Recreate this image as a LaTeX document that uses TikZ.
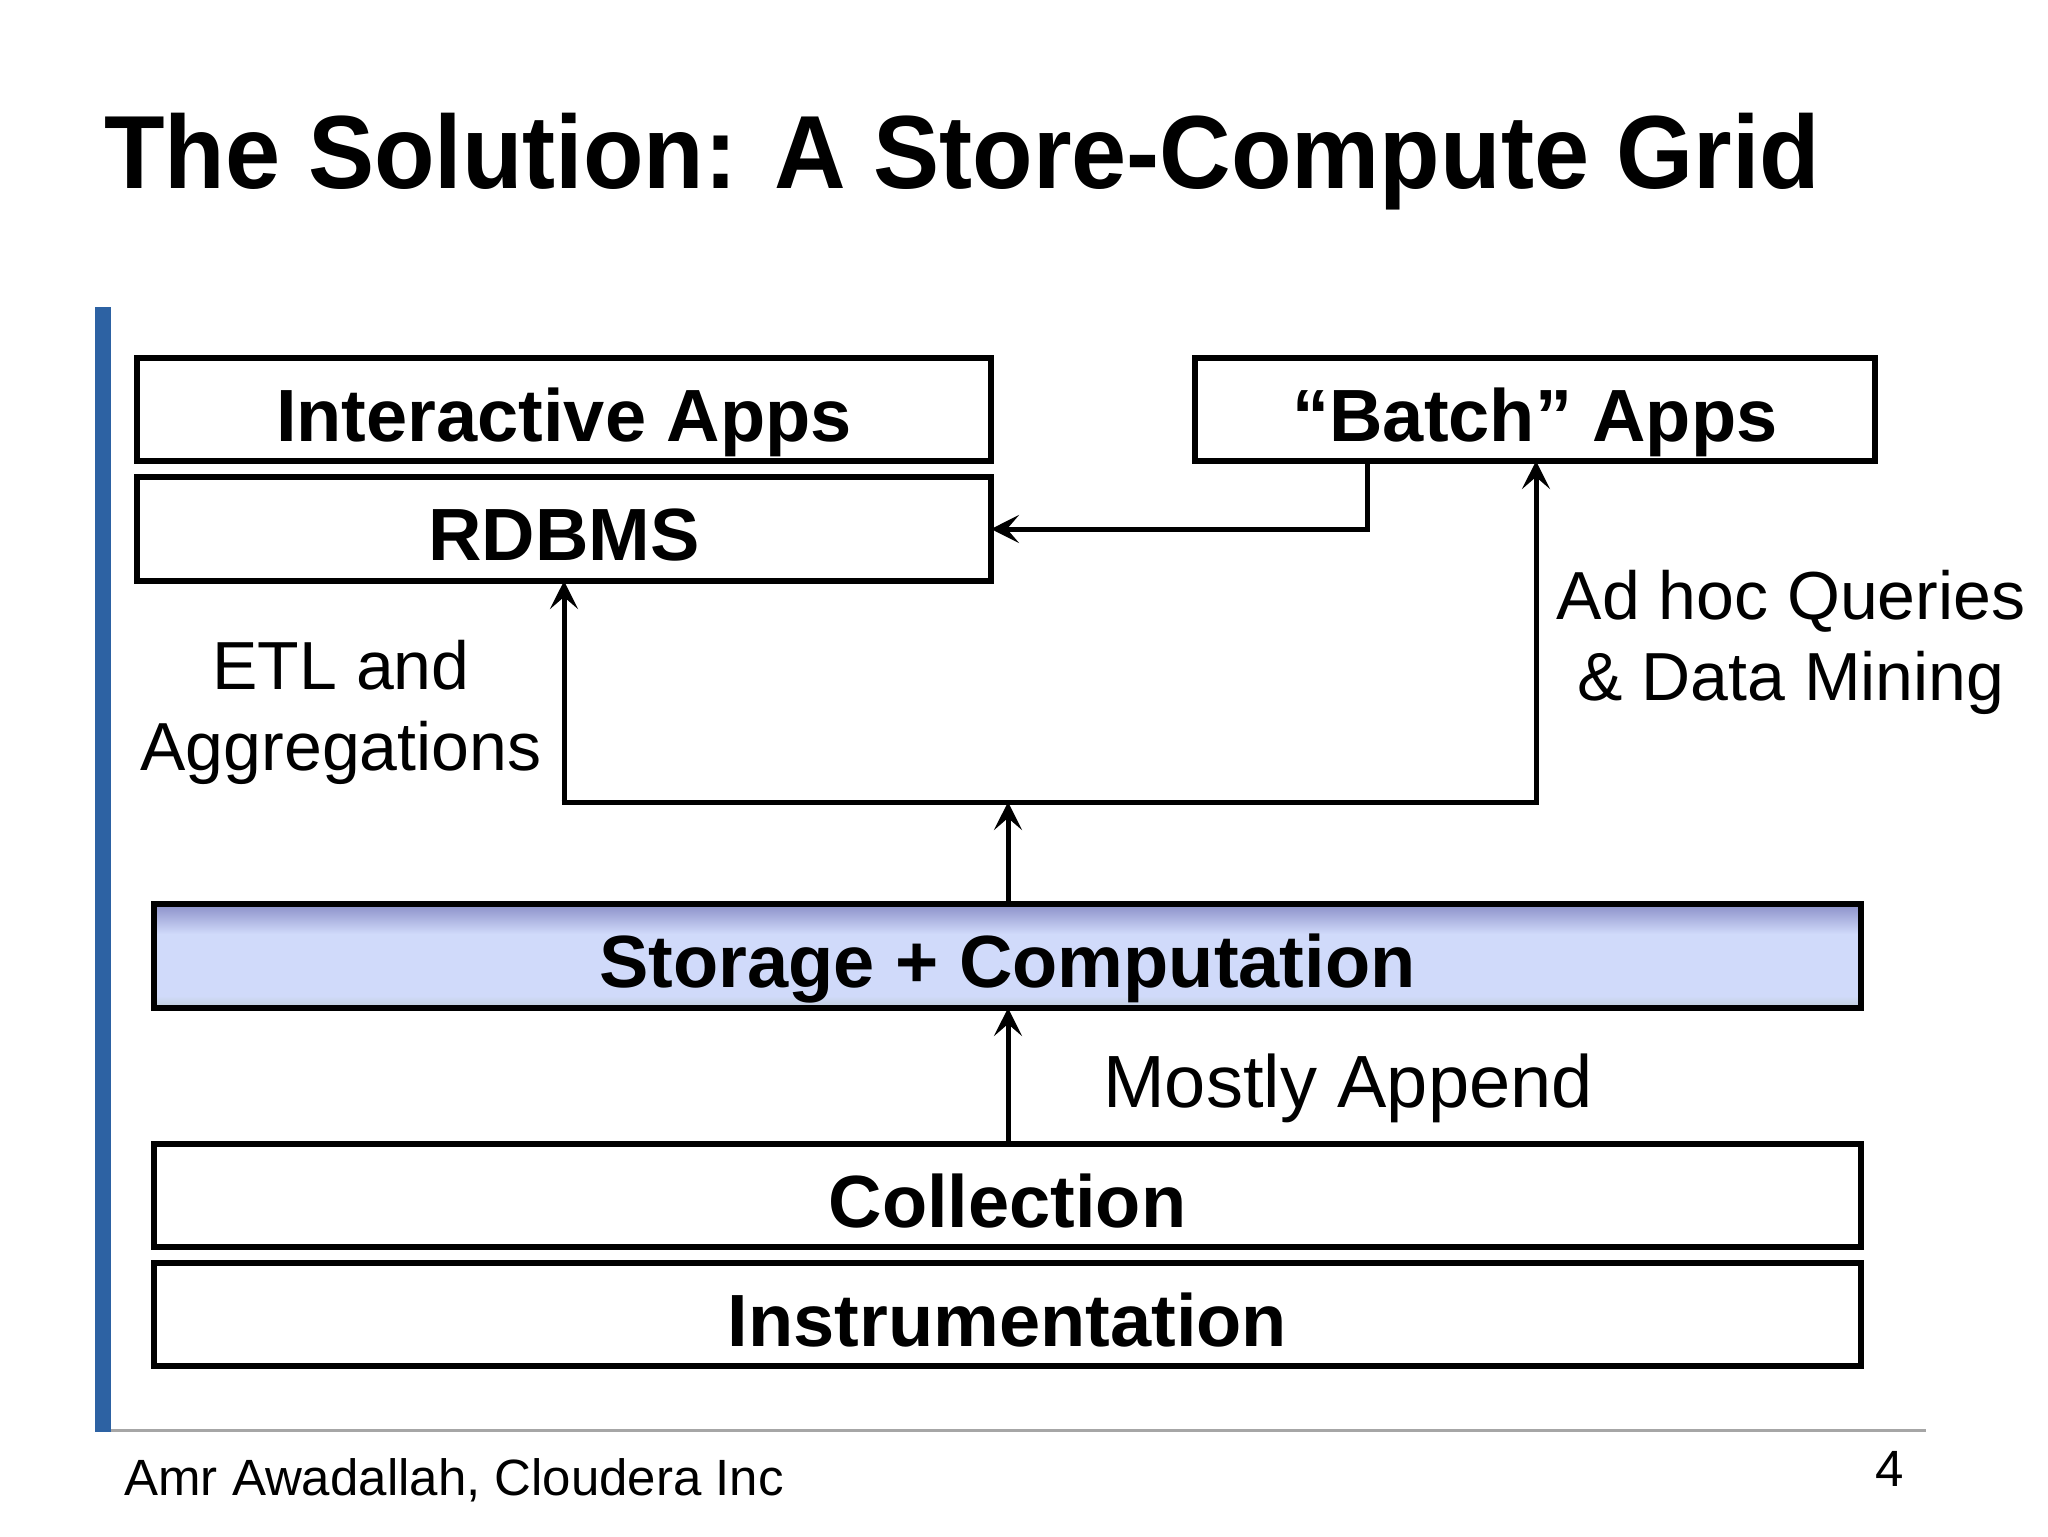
\documentclass[tikz,border=0pt]{standalone}
\usepackage{fontspec}
\setmainfont{Liberation Sans}
\usetikzlibrary{arrows.meta}
\definecolor{barblue}{RGB}{45,98,163}
\definecolor{gtop}{RGB}{138,143,200}
\definecolor{gmid}{RGB}{208,218,250}
\definecolor{gbot}{RGB}{190,205,215}
\tikzset{
  box/.style={draw=black, line width=2.8pt, inner sep=0pt, outer sep=0pt, fill=white,
    font=\fontsize{37}{42}\selectfont\bfseries, text height=31.7pt, text depth=0pt},
  arr/.style={line width=2.5pt, -{Stealth[length=14pt, width=14pt, inset=6pt]}},
  plainline/.style={line width=2.5pt},
  lbl/.style={font=\fontsize{34}{40.5}\selectfont, align=center, inner sep=0pt},
}
\begin{document}
\begin{tikzpicture}[x=0.5pt, y=-0.5pt]
\useasboundingbox[fill=white] (0,0) rectangle (2048,1536);
% title
\node[anchor=base west, inner sep=0pt, font=\fontsize{52}{60}\selectfont\bfseries] (title) at (104,188) {\scalebox{0.953}[1]{The Solution: A Store-Compute Grid}};
% side bar and bottom rule
\fill[barblue] (95,307) rectangle (111,1432);
\draw[line width=1.5pt, gray!70] (111,1430) -- (1926,1430);
% boxes
\node[box, minimum width=427pt, minimum height=51.5pt] (inter) at (564,409.5) {Interactive Apps};
\node[box, minimum width=427pt, minimum height=52pt] (rdbms) at (564,529) {RDBMS};
\node[box, minimum width=340pt, minimum height=51.5pt] (batch) at (1535,409.5) {``Batch'' Apps};
\coordinate (snw) at (154,904);
\coordinate (sse) at (1861,1008);
\shade[top color=gtop, bottom color=gmid] (snw) rectangle (1861,934);
\fill[gmid] (154,934) rectangle (1861,996);
\shade[top color=gmid, bottom color=gbot] (154,996) rectangle (sse);
\node[box, minimum width=853.5pt, minimum height=52pt, fill=none] (storage) at (1007.5,956) {Storage + Computation};
\node[box, minimum width=853.5pt, minimum height=51.5pt] (coll) at (1007.5,1195.5) {Collection};
\node[box, minimum width=853.5pt, minimum height=51.5pt] (instr) at (1007.5,1314.5) {Instrumentation};
% junction coordinates
\coordinate (bx) at (1367,0);
\coordinate (jL) at (564,802);
\coordinate (jC) at (1008,802);
\coordinate (jR) at (1536,802);
% connectors
\draw[arr] (batch.south -| bx) |- (rdbms.east);
\draw[arr] (jL) -- (rdbms.south);
\draw[plainline] ([xshift=-1.25pt]jL) -- ([xshift=1.25pt]jR);
\draw[arr] (jR) -- (batch.south -| jR);
\draw[arr] (storage.north -| jC) -- (jC);
\draw[arr] (coll.north -| jC) -- (storage.south -| jC);
% labels
\node[lbl] (etl) at (341,712) {ETL and\\Aggregations};
\node[lbl] (adhoc) at (1791,642) {Ad hoc Queries\\\& Data Mining};
\node[lbl, anchor=base, font=\fontsize{37}{44}\selectfont] (append) at (1348,1107) {Mostly Append};
% footer
\node[anchor=base west, inner sep=0pt, font=\fontsize{25.5}{30}\selectfont] (foot) at (124,1495) {Amr Awadallah, Cloudera Inc};
\node[anchor=base east, inner sep=0pt, font=\fontsize{25.5}{30}\selectfont] (pnum) at (1904,1486) {4};
\end{tikzpicture}
\end{document}
